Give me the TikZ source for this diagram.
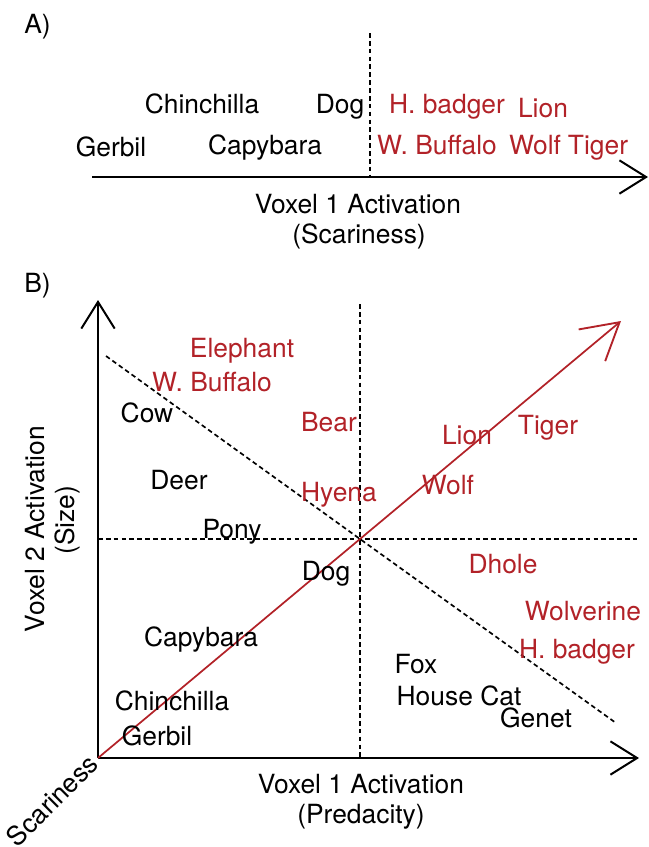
\documentclass[tikz,border=0pt]{standalone}
\usepackage{fontspec}
\setmainfont{TeX Gyre Heros}
\usepackage{xcolor}
\usepackage{tikz}
\usetikzlibrary{arrows.meta, positioning}
\definecolor{scary}{RGB}{178,34,40}

\begin{document}
\begin{tikzpicture}[
    x=0.75pt, y=-0.75pt,
    animal/.style={anchor=base, inner sep=0pt, font=\fontsize{19.8}{23}\selectfont},
    scaryanimal/.style={animal, text=scary},
    axislabel/.style={animal},
    axis/.style={line width=1.5pt, -{Straight Barb[length=20pt, width=25pt, line width=1.5pt]}},
    divider/.style={line width=1.25pt, dash pattern=on 3.5pt off 2.4pt},
    trend/.style={draw=scary, line width=1.3pt, -{Straight Barb[length=27pt, width=31pt, line width=1.4pt]}}
]
    \useasboundingbox (0,0) rectangle (649,847);

    % Panel A
    \node[animal, anchor=base west] (A-label) at (24,33) {A)};
    \coordinate (A-origin) at (92,177);
    \coordinate (A-end) at (648,177);
    \coordinate (A-top) at (370,33);
    \coordinate (A-mid) at (370,177);
    \draw[divider] (A-top) -- (A-mid);
    \draw[axis] (A-origin) -- (A-end);

    \node[animal] (A-chinchilla) at (202,113) {Chinchilla};
    \node[animal] (A-dog) at (340,113) {Dog};
    \node[scaryanimal] (A-badger) at (447,113) {H. badger};
    \node[scaryanimal] (A-lion) at (543,117) {Lion};
    \node[animal] (A-gerbil) at (111,156) {Gerbil};
    \node[animal] (A-capybara) at (265,154) {Capybara};
    \node[scaryanimal] (A-buffalo) at (437,154) {W. Buffalo};
    \node[scaryanimal] (A-wolf) at (535,154) {Wolf};
    \node[scaryanimal] (A-tiger) at (598,154) {Tiger};

    \node[axislabel] (A-xlabel) at (358,213) {Voxel 1 Activation};
    \node[axislabel] (A-xsub) at (359,243) {(Scariness)};

    % Panel B
    \node[animal, anchor=base west] (B-label) at (24,292) {B)};
    \coordinate (B-origin) at (98,758);
    \coordinate (B-xend) at (639,758);
    \coordinate (B-yend) at (98,300);
    \coordinate (B-centre) at (360,539);
    \coordinate (B-vtop) at (360,304);
    \coordinate (B-vbot) at (360,758);
    \coordinate (B-hleft) at (98,539);
    \coordinate (B-hright) at (637,539);
    \coordinate (B-dstart) at (106,356);
    \coordinate (B-dend) at (616,723);
    \coordinate (B-scary) at (621,321);

    % Grid
    \draw[divider] (B-vtop) -- (B-vbot);
    \draw[divider] (B-hleft) -- (B-hright);
    \draw[divider] (B-dstart) -- (B-centre) -- (B-dend);
    \draw[axis] (B-origin) -- (B-xend);
    \draw[axis] (B-origin) -- (B-yend);
    \draw[trend] (B-origin) -- (B-centre) -- (B-scary);

    % Axis labels
    \node[axislabel] (B-xlabel) at (361,793) {Voxel 1 Activation};
    \node[axislabel] (B-xsub) at (361,823) {(Predacity)};
    \node[axislabel, rotate=90] (B-ylabel) at (44,529) {Voxel 2 Activation};
    \node[axislabel, rotate=90] (B-ysub) at (74,520) {(Size)};
    \node[axislabel, rotate=45, anchor=base east] (B-zlabel) at (100,766) {Scariness};

    % Animals
    \node[scaryanimal] (B-elephant) at (242,357) {Elephant};
    \node[scaryanimal] (B-buffalo) at (212,391) {W. Buffalo};
    \node[animal] (B-cow) at (147,422) {Cow};
    \node[scaryanimal] (B-bear) at (329,431) {Bear};
    \node[animal] (B-deer) at (179,489) {Deer};
    \node[scaryanimal] (B-hyena) at (339,501) {Hyena};
    \node[animal] (B-pony) at (232,538) {Pony};
    \node[animal] (B-dog) at (326,580) {Dog};
    \node[animal] (B-capybara) at (201,646) {Capybara};
    \node[animal] (B-chinchilla) at (172,710) {Chinchilla};
    \node[animal] (B-gerbil) at (157,745) {Gerbil};
    \node[scaryanimal] (B-lion) at (467,444) {Lion};
    \node[scaryanimal] (B-tiger) at (548,434) {Tiger};
    \node[scaryanimal] (B-wolf) at (448,494) {Wolf};
    \node[scaryanimal] (B-dhole) at (503,573) {Dhole};
    \node[scaryanimal] (B-wolverine) at (583,620) {Wolverine};
    \node[scaryanimal] (B-badger) at (577,658) {H. badger};
    \node[animal] (B-fox) at (416,673) {Fox};
    \node[animal] (B-housecat) at (459,705) {House Cat};
    \node[animal] (B-genet) at (536,727) {Genet};
\end{tikzpicture}
\end{document}
